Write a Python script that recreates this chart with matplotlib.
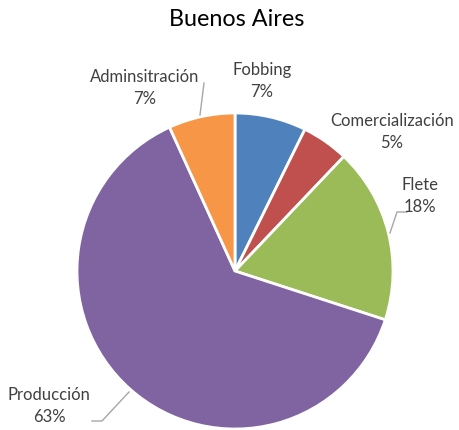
import matplotlib.pyplot as plt

categories = ["Fobbing", "Comercialización", "Flete", "Producción", "Adminsitración"]
shares = [7.3, 4.8, 17.9, 63.2, 6.8]
pct_labels = ["7%", "5%", "18%", "63%", "7%"]
colors = ["#4F81BD", "#C0504D", "#9BBB59", "#8064A2", "#F79646"]

W, H = 459, 430
fig = plt.figure(figsize=(W / 100, H / 100), dpi=100)
ax = fig.add_axes([0, 0, 1, 1])

cx, cy, r = 235, H - 271, 158
ax.pie(shares, colors=colors, startangle=90, counterclock=False,
       center=(cx, cy), radius=r, frame=True,
       wedgeprops=dict(edgecolor="white", linewidth=2))
ax.set_xlim(0, W)
ax.set_ylim(0, H)
ax.set_aspect("equal")
ax.axis("off")

font = "Lato"
ax.text(237, H - 20, "Buenos Aires", ha="center", va="center",
        fontsize=16.8, family=font, color="#000000")

# label positions (pixel coords, top-down)
label_pos = [(262, 81), (392, 132), (420, 196), (49, 406), (145, 88)]
for name, pct, (px, py) in zip(categories, pct_labels, label_pos):
    ax.text(px, H - py, f"{name}\n{pct}", ha="center", va="center",
            fontsize=12, family=font, color="#404040", linespacing=1.45)

# leader lines
lc = "#A6A6A6"
ax.plot([204, 200], [H - 83, H - 115], color=lc, lw=1)
ax.plot([92, 102, 129], [H - 421, H - 421, H - 392], color=lc, lw=1)
ax.plot([390, 397, 407], [H - 233, H - 212, H - 212], color=lc, lw=1)

fig.savefig("out.png", dpi=100)
